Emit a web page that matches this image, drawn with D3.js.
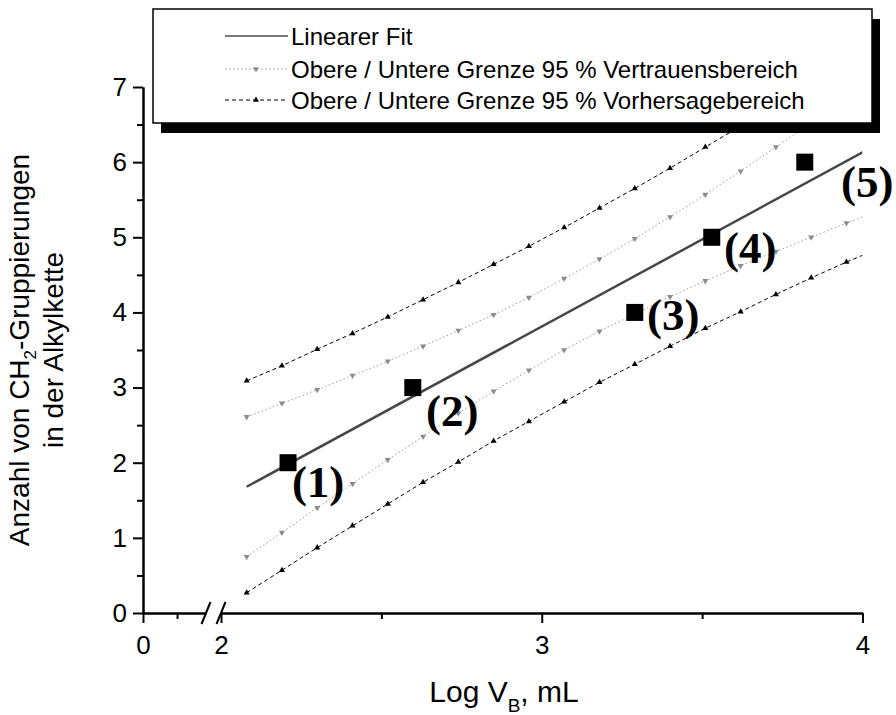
<!DOCTYPE html>
<html>
<head>
<meta charset="utf-8">
<script src="https://cdn.jsdelivr.net/npm/d3@7"></script>
<style>
  body { margin: 0; background: #fff; }
  svg { display: block; font-family: "Liberation Sans", Arial, sans-serif; }
  .axis path, .axis line { stroke: #000; stroke-width: 2; }
  .axis text { font-size: 26px; fill: #000; font-family: "Liberation Sans", Arial, sans-serif; }
</style>
</head>
<body>
<div id="chart"></div>
<script>
// Messpunkte (1)-(5): Log V_B gegen Anzahl CH2-Gruppen
const pointX = [2.209, 2.598, 3.29, 3.53, 3.82];
const pointY = [2, 3, 4, 5, 6];
const pointLabels = ['(1)', '(2)', '(3)', '(4)', '(5)'];
// Lage der Beschriftungen (Datenkoordinaten, linke Grundlinie)
const labelX = [2.221, 2.639, 3.328, 3.568, 3.933];
const labelY = [1.544, 2.489, 3.766, 4.658, 5.536];

// linearer Fit, Endpunkte
const fitX = [2.08, 4.0];
const fitY = [1.68, 6.13];

// Stützstellen der Bänder (die letzte ohne Symbol)
const bandX = [2.08, 2.19, 2.30, 2.41, 2.52, 2.63, 2.74, 2.85, 2.96, 3.07,
               3.18, 3.29, 3.40, 3.51, 3.62, 3.73, 3.84, 3.95, 4.00];
const confUpper = [2.61, 2.79, 2.97, 3.16, 3.35, 3.55, 3.76, 3.97, 4.20, 4.45,
                   4.71, 4.98, 5.27, 5.57, 5.88, 6.20, 6.52, 6.84, 6.99];
const confLower = [0.75, 1.07, 1.40, 1.72, 2.04, 2.35, 2.66, 2.95, 3.23, 3.50,
                   3.75, 3.98, 4.21, 4.42, 4.62, 4.81, 5.00, 5.19, 5.27];
const predUpper = [3.09, 3.29, 3.51, 3.72, 3.94, 4.17, 4.40, 4.64, 4.88, 5.13,
                   5.39, 5.65, 5.92, 6.20, 6.48, 6.77, 7.06, 7.36, 7.50];
const predLower = [0.27, 0.57, 0.87, 1.16, 1.45, 1.74, 2.01, 2.29, 2.55, 2.81,
                   3.07, 3.31, 3.55, 3.79, 4.01, 4.24, 4.46, 4.67, 4.76];

// Achsen-Ticks
const yTicks = [0, 1, 2, 3, 4, 5, 6, 7];
const yMinor = [0.5, 1.5, 2.5, 3.5, 4.5, 5.5, 6.5];
const xTicksLeft = [0];
const xMinorLeft = [1];
const xTicksMain = [2, 3, 4];
const xMinorMain = [2.5, 3.5];

const legendItems = [
  'Linearer Fit',
  'Obere / Untere Grenze 95 % Vertrauensbereich',
  'Obere / Untere Grenze 95 % Vorhersagebereich'
];

const width = 896, height = 715;
const plot = { left: 143, right: 862.5, top: 87, bottom: 613 };

const svg = d3.select('#chart').append('svg')
  .attr('width', width)
  .attr('height', height);

// Skalen: x mit Achsenbruch zwischen ~1.85 und 2
const xLeft = d3.scaleLinear().domain([0, 1.85]).range([plot.left, 206]);
const x = d3.scaleLinear().domain([2, 4]).range([221, plot.right]);
const y = d3.scaleLinear().domain([0, 7]).range([plot.bottom, plot.top]);

svg.append('defs').append('clipPath').attr('id', 'clip')
  .append('rect')
  .attr('x', plot.left).attr('y', plot.top)
  .attr('width', plot.right - plot.left)
  .attr('height', plot.bottom - plot.top);

const fmt = d => String(d);

// y-Achse
svg.append('g').attr('class', 'axis')
  .attr('transform', `translate(${plot.left},0)`)
  .call(d3.axisLeft(y).tickValues(yMinor).tickSize(6).tickSizeOuter(0).tickFormat(''));
svg.append('g').attr('class', 'axis')
  .attr('transform', `translate(${plot.left},0)`)
  .call(d3.axisLeft(y).tickValues(yTicks).tickSize(10).tickSizeOuter(0).tickPadding(6).tickFormat(fmt));

// x-Achse, zwei Segmente
const xAxisGroups = [[xLeft, xTicksLeft, xMinorLeft], [x, xTicksMain, xMinorMain]];
xAxisGroups.forEach(([sc, major, minor]) => {
  svg.append('g').attr('class', 'axis')
    .attr('transform', `translate(0,${plot.bottom})`)
    .call(d3.axisBottom(sc).tickValues(minor).tickSize(6).tickSizeOuter(0).tickFormat(''));
  svg.append('g').attr('class', 'axis')
    .attr('transform', `translate(0,${plot.bottom})`)
    .call(d3.axisBottom(sc).tickValues(major).tickSize(10).tickSizeOuter(0).tickPadding(12.5).tickFormat(fmt));
});
svg.selectAll('.axis').attr('font-family', null).attr('font-size', null);

// Bruchzeichen //
[xLeft.range()[1], x.range()[0]].forEach(cx => {
  svg.append('line')
    .attr('x1', cx - 4.5).attr('y1', plot.bottom + 11)
    .attr('x2', cx + 4.5).attr('y2', plot.bottom - 11)
    .attr('stroke', '#000').attr('stroke-width', 2);
});

const g = svg.append('g').attr('clip-path', 'url(#clip)');

const lineGen = d3.line()
  .x(d => x(d[0]))
  .y(d => y(d[1]));

// Bänder
const bands = [
  { vals: confUpper, color: '#999', dash: '1.5,2.5', sym: 'down' },
  { vals: confLower, color: '#999', dash: '1.5,2.5', sym: 'down' },
  { vals: predUpper, color: '#000', dash: '4,3', sym: 'up' },
  { vals: predLower, color: '#000', dash: '4,3', sym: 'up' }
];

const triUp = d3.symbol(d3.symbolTriangle).size(16);

bands.forEach(b => {
  const pts = bandX.map((xv, i) => [xv, b.vals[i]]);
  g.append('path')
    .attr('d', lineGen(pts))
    .attr('fill', 'none')
    .attr('stroke', b.color)
    .attr('stroke-width', 1)
    .attr('stroke-dasharray', b.dash);
  g.selectAll(null)
    .data(pts.slice(0, pts.length - 1))
    .join('path')
    .attr('d', triUp)
    .attr('transform', d => `translate(${x(d[0])},${y(d[1])})` + (b.sym === 'down' ? ' rotate(180)' : ''))
    .attr('fill', b.sym === 'down' ? '#8c8c8c' : '#000');
});

// Fit-Gerade
g.append('path')
  .attr('d', lineGen(fitX.map((xv, i) => [xv, fitY[i]])))
  .attr('fill', 'none')
  .attr('stroke', '#474747')
  .attr('stroke-width', 2.5);

// Messpunkte als Quadrate
const sq = 17;
svg.selectAll('.punkt')
  .data(pointX.map((xv, i) => [xv, pointY[i]]))
  .join('rect')
  .attr('class', 'punkt')
  .attr('x', d => x(d[0]) - sq / 2)
  .attr('y', d => y(d[1]) - sq / 2)
  .attr('width', sq).attr('height', sq)
  .attr('fill', '#000');

// Beschriftungen (1)-(5)
svg.selectAll('.nummer')
  .data(pointLabels)
  .join('text')
  .attr('class', 'nummer')
  .attr('x', (d, i) => x(labelX[i]))
  .attr('y', (d, i) => y(labelY[i]))
  .style('font-family', '"Liberation Serif", "Times New Roman", serif')
  .style('font-weight', 'bold')
  .style('font-size', '45px')
  .text(d => d);

// Achsentitel x
const xt = svg.append('text')
  .attr('x', 504).attr('y', 702)
  .attr('text-anchor', 'middle')
  .style('font-size', '30px');
xt.append('tspan').text('Log V');
xt.append('tspan').attr('dy', 10).style('font-size', '19px').text('B');
xt.append('tspan').attr('dy', -10).text(', mL');

// Achsentitel y, zweizeilig
const cy = (plot.top + plot.bottom) / 2;
const yt1 = svg.append('text')
  .attr('transform', `translate(29,${cy}) rotate(-90)`)
  .attr('text-anchor', 'middle')
  .style('font-size', '28px');
yt1.append('tspan').text('Anzahl von CH');
yt1.append('tspan').attr('dy', 7).style('font-size', '17px').text('2');
yt1.append('tspan').attr('dy', -7).text('-Gruppierungen');

svg.append('text')
  .attr('transform', `translate(63,${cy}) rotate(-90)`)
  .attr('text-anchor', 'middle')
  .style('font-size', '28px')
  .text('in der Alkylkette');

// Legende mit Schatten
const leg = { x: 153, y: 9, w: 719, h: 114 };
svg.append('rect')
  .attr('x', leg.x + 8).attr('y', leg.y + 10)
  .attr('width', leg.w).attr('height', leg.h)
  .attr('fill', '#000');
svg.append('rect')
  .attr('x', leg.x).attr('y', leg.y)
  .attr('width', leg.w).attr('height', leg.h)
  .attr('fill', '#fff')
  .attr('stroke', '#000')
  .attr('stroke-width', 1.5);

const rowY = [36, 69, 100];
legendItems.forEach((txt, i) => {
  const ry = rowY[i];
  if (i === 0) {
    svg.append('line')
      .attr('x1', 225).attr('x2', 288).attr('y1', ry).attr('y2', ry)
      .attr('stroke', '#4d4d4d').attr('stroke-width', 1.5);
  } else {
    const b = bands[i === 1 ? 0 : 2];
    svg.append('line')
      .attr('x1', 225).attr('x2', 288).attr('y1', ry).attr('y2', ry)
      .attr('stroke', b.color).attr('stroke-width', 1)
      .attr('stroke-dasharray', b.dash);
    svg.append('path')
      .attr('d', triUp)
      .attr('transform', `translate(256,${ry})` + (b.sym === 'down' ? ' rotate(180)' : ''))
      .attr('fill', b.sym === 'down' ? '#8c8c8c' : '#000');
  }
  svg.append('text')
    .attr('x', 291).attr('y', ry + 9)
    .style('font-size', '24px')
    .text(txt);
});
</script>
</body>
</html>
